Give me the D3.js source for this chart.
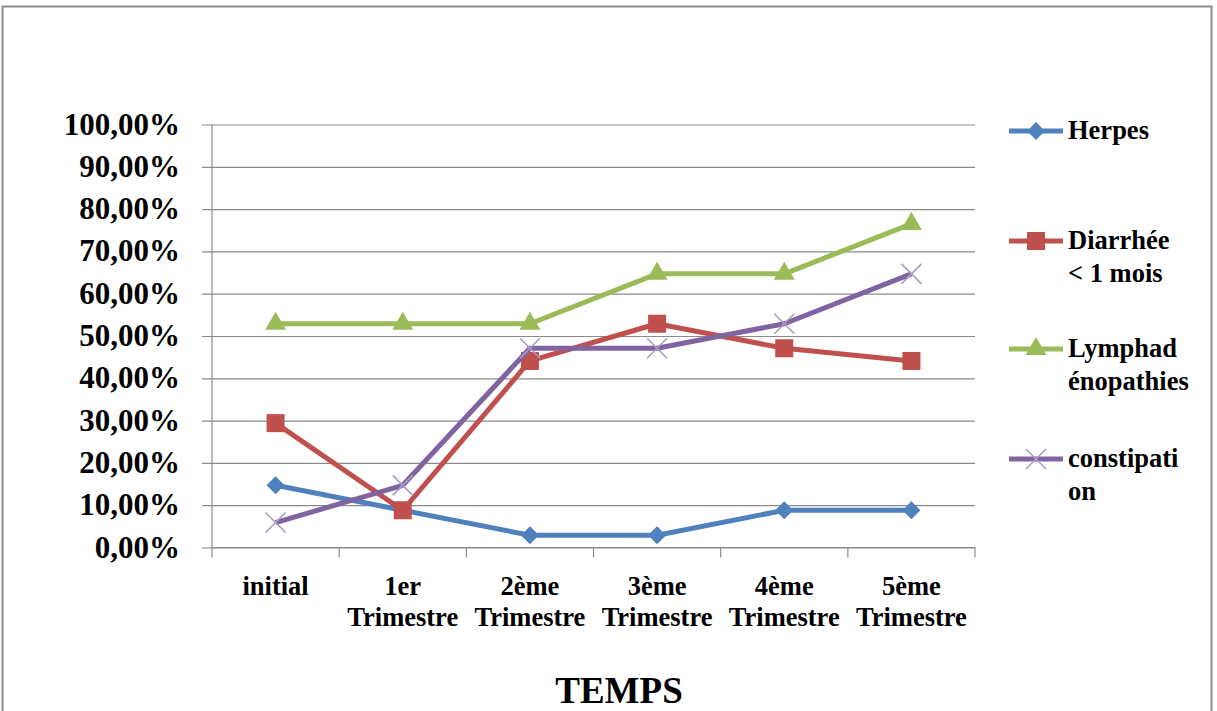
<!DOCTYPE html>
<html>
<head>
<meta charset="utf-8">
<script src="https://cdn.jsdelivr.net/npm/d3@7"></script>
<style>
  html, body { margin: 0; padding: 0; background: #fff; }
  svg { display: block; }
  text { font-family: "Liberation Serif", "Times New Roman", serif; font-weight: bold; fill: #000; }
</style>
</head>
<body>
<svg id="chart" width="1217" height="711"></svg>
<script>
// Categories (x axis), two lines each
const categories = [
  ["initial"],
  ["1er", "Trimestre"],
  ["2ème", "Trimestre"],
  ["3ème", "Trimestre"],
  ["4ème", "Trimestre"],
  ["5ème", "Trimestre"]
];

// Series values, in percent
const herpes       = [14.7, 8.8, 2.9, 2.9, 8.8, 8.8];
const diarrhee     = [29.4, 8.8, 44.1, 52.9, 47.1, 44.1];
const lymphad      = [52.9, 52.9, 52.9, 64.7, 64.7, 76.5];
const constipation = [5.9, 14.7, 47.1, 47.1, 52.9, 64.7];

// Y tick values
const yTicks = [0, 10, 20, 30, 40, 50, 60, 70, 80, 90, 100];

const series = [
  { name: ["Herpes"], values: herpes, color: "#4F81BD", marker: "diamond" },
  { name: ["Diarrhée", "< 1 mois"], values: diarrhee, color: "#C0504D", marker: "square" },
  { name: ["Lymphad", "énopathies"], values: lymphad, color: "#9BBB59", marker: "triangle" },
  { name: ["constipati", "on"], values: constipation, color: "#8064A2", marker: "x" }
];

const svg = d3.select("#chart");

// Outer frame
svg.append("rect")
  .attr("x", 2.5).attr("y", 6.5)
  .attr("width", 1209).attr("height", 720)
  .attr("fill", "none").attr("stroke", "#8a8a8a").attr("stroke-width", 2);

const plotLeft = 212, plotRight = 975, plotTop = 124.5, plotBottom = 547.5;

const x = d3.scaleBand().domain(d3.range(categories.length)).range([plotLeft, plotRight]);
const y = d3.scaleLinear().domain([0, 100]).range([plotBottom, plotTop]);

const fmt = v => d3.format(".2f")(v).replace(".", ",") + "%";

// Horizontal gridlines with tick marks on the left
const yAxis = d3.axisLeft(y).tickValues(yTicks).tickSize(-(plotRight - plotLeft)).tickFormat("");
const gy = svg.append("g").attr("transform", `translate(${plotLeft},0)`).call(yAxis);
gy.select(".domain").remove();
gy.selectAll(".tick line").attr("stroke", "#8a8a8a").attr("stroke-width", 1.2).attr("x1", -10);

// Y tick labels
svg.append("g").selectAll("text").data(yTicks).join("text")
  .attr("x", 180).attr("y", d => y(d) + 10)
  .attr("text-anchor", "end")
  .style("font-size", "31px")
  .text(d => fmt(d));

// Vertical axis line
svg.append("line")
  .attr("x1", plotLeft).attr("x2", plotLeft).attr("y1", plotTop).attr("y2", plotBottom)
  .attr("stroke", "#8a8a8a").attr("stroke-width", 1.2);

// X axis with ticks at category boundaries
const boundaries = d3.range(categories.length + 1).map(i => plotLeft + i * x.bandwidth());
svg.append("line")
  .attr("x1", plotLeft).attr("x2", plotRight).attr("y1", plotBottom).attr("y2", plotBottom)
  .attr("stroke", "#8a8a8a").attr("stroke-width", 1.2);
svg.append("g").selectAll("line").data(boundaries).join("line")
  .attr("x1", d => d).attr("x2", d => d)
  .attr("y1", plotBottom).attr("y2", plotBottom + 10)
  .attr("stroke", "#8a8a8a").attr("stroke-width", 1.2);

// X labels
const xl = svg.append("g").selectAll("text").data(categories).join("text")
  .attr("text-anchor", "middle")
  .style("font-size", "26.5px");
xl.each(function(lines, i) {
  const t = d3.select(this);
  lines.forEach((ln, j) => {
    t.append("tspan")
      .attr("x", x(i) + x.bandwidth() / 2)
      .attr("y", 595 + j * 31)
      .text(ln);
  });
});

// Axis title
svg.append("text")
  .attr("x", 619).attr("y", 703)
  .attr("text-anchor", "middle")
  .style("font-size", "37px")
  .text("TEMPS");

// Marker drawing
function drawMarker(g, type, color, cx, cy) {
  if (type === "diamond") {
    const r = 9;
    g.append("path")
      .attr("d", `M${cx},${cy - r}L${cx + r},${cy}L${cx},${cy + r}L${cx - r},${cy}Z`)
      .attr("fill", color);
  } else if (type === "square") {
    const s = 18;
    g.append("rect").attr("x", cx - s / 2).attr("y", cy - s / 2)
      .attr("width", s).attr("height", s).attr("fill", color);
  } else if (type === "triangle") {
    g.append("path")
      .attr("d", d3.symbol(d3.symbolTriangle, 190)())
      .attr("transform", `translate(${cx},${cy})`)
      .attr("fill", color);
  } else if (type === "x") {
    const r = 10;
    g.append("path")
      .attr("d", `M${cx - r},${cy - r}L${cx + r},${cy + r}M${cx - r},${cy + r}L${cx + r},${cy - r}`)
      .attr("stroke", "#a89cc4").attr("stroke-width", 1.6).attr("fill", "none");
  }
}

const line = d3.line()
  .x((d, i) => x(i) + x.bandwidth() / 2)
  .y(d => y(d));

// Series lines and markers
series.forEach(s => {
  const g = svg.append("g");
  g.append("path")
    .attr("d", line(s.values))
    .attr("fill", "none")
    .attr("stroke", s.color)
    .attr("stroke-width", 5)
    .attr("stroke-linejoin", "round");
  s.values.forEach((v, i) => drawMarker(g, s.marker, s.color, x(i) + x.bandwidth() / 2, y(v)));
});

// Legend
const legendY = [131, 241, 349, 459];
series.forEach((s, k) => {
  const g = svg.append("g");
  const ly = legendY[k];
  g.append("line")
    .attr("x1", 1009).attr("x2", 1063).attr("y1", ly).attr("y2", ly)
    .attr("stroke", s.color).attr("stroke-width", 5);
  drawMarker(g, s.marker, s.color, 1036, ly);
  const t = g.append("text").style("font-size", "26.5px");
  s.name.forEach((ln, j) => {
    t.append("tspan").attr("x", 1068).attr("y", ly + 8 + j * 33).text(ln);
  });
});
</script>
</body>
</html>
